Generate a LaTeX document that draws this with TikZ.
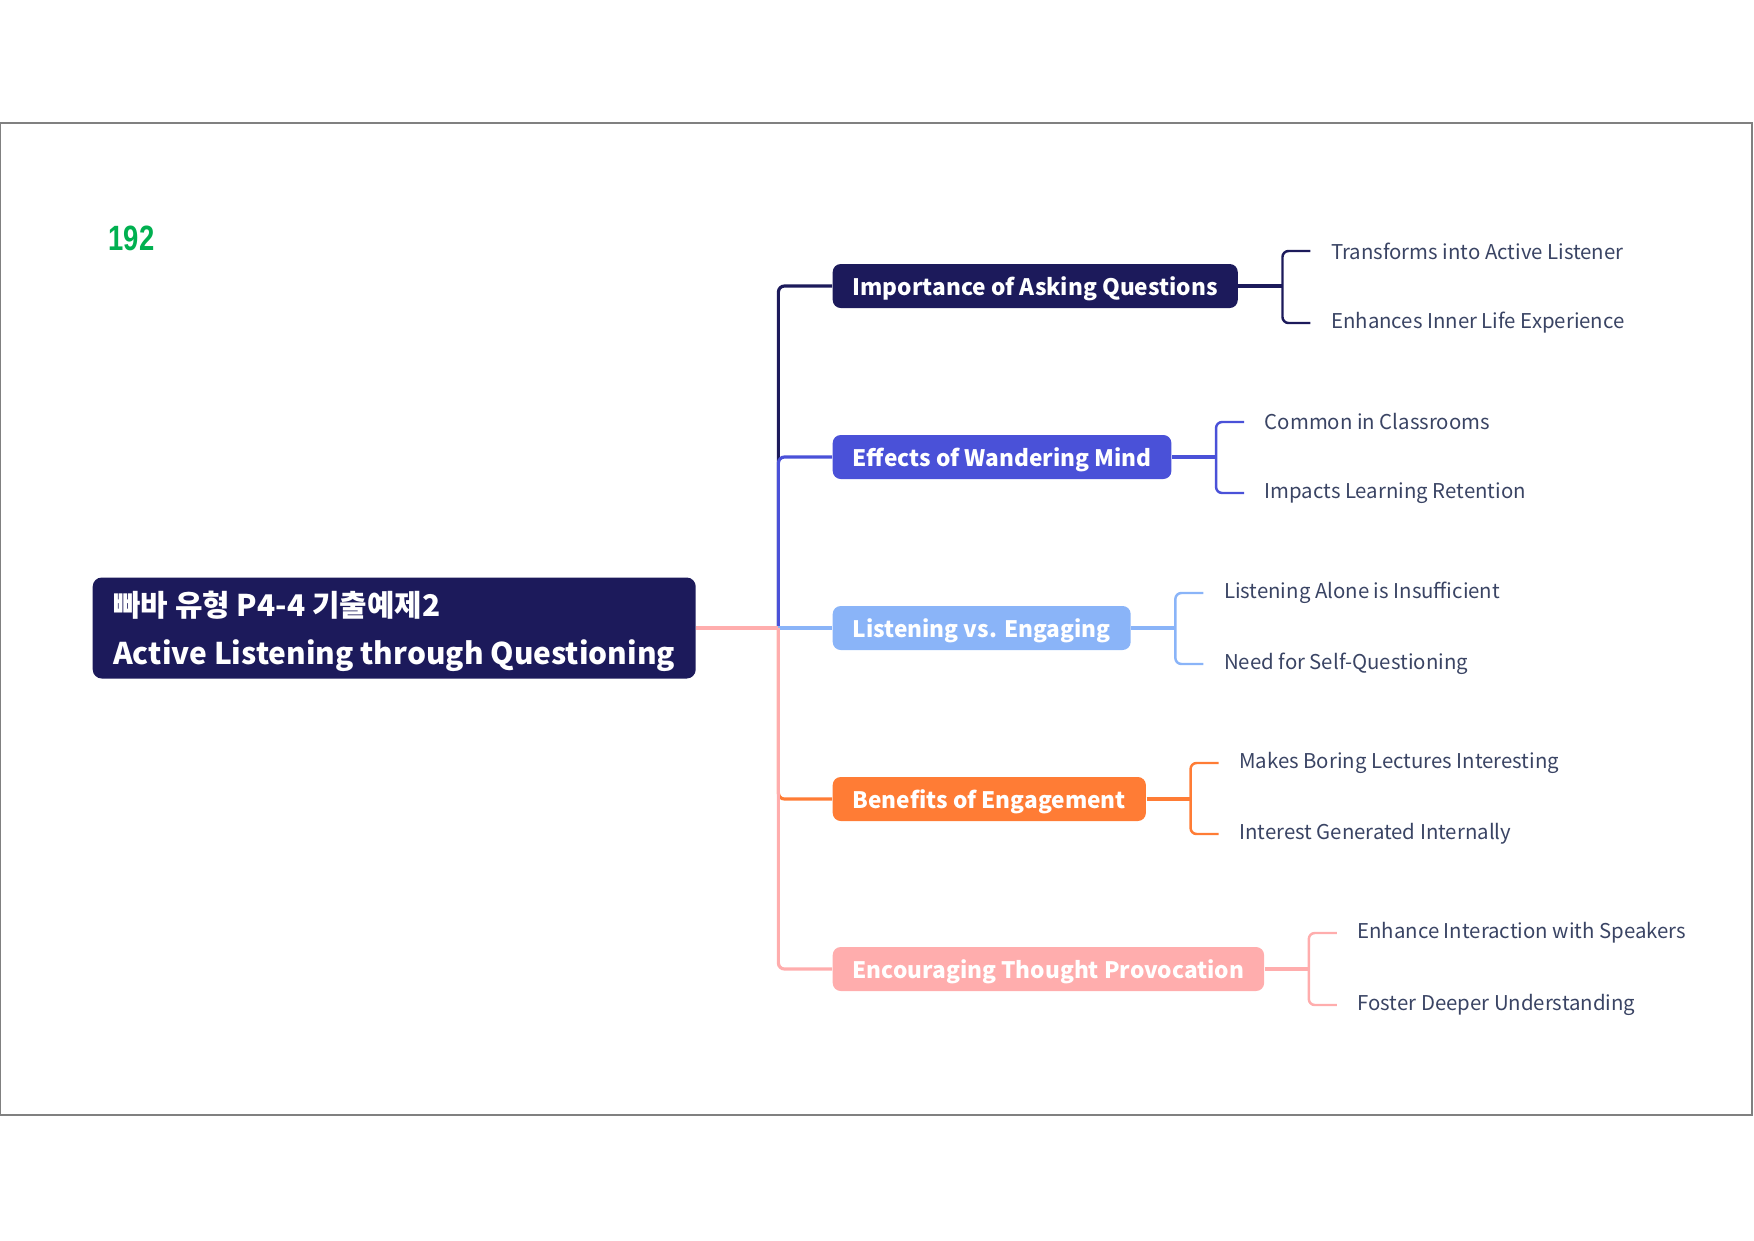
\documentclass[tikz,border=0pt]{standalone}
\usepackage{fontspec}
\newfontfamily\krfont{Noto Sans CJK KR}
\newfontfamily\numfont[FakeStretch=0.78]{Liberation Sans}
\definecolor{navy}{HTML}{1C1A5B}
\definecolor{royal}{HTML}{4A51D8}
\definecolor{sky}{HTML}{8AB4F8}
\definecolor{tangerine}{HTML}{FF7C35}
\definecolor{salmon}{HTML}{FFADAD}
\definecolor{leaftext}{HTML}{3A4464}
\definecolor{pagenum}{HTML}{00B050}

\begin{document}
\begin{tikzpicture}[
    x=0.1mm, y=-0.1mm,
    rootbox/.style={rectangle, rounded corners=0.9mm, fill=navy, text=white,
        font=\krfont\bfseries\fontsize{8.5}{13.7}\selectfont, align=left,
        text depth=0pt, inner xsep=2mm, minimum width=60.3mm, minimum height=10.1mm, anchor=west},
    topic/.style={rectangle, rounded corners=0.8mm, text=white,
        font=\krfont\bfseries\fontsize{6.45}{8}\selectfont,
        text height=5.3pt, text depth=0pt,
        inner xsep=2mm, inner ysep=0pt, minimum height=4.4mm, anchor=west},
    leaf/.style={text=leaftext, font=\krfont\fontsize{5.8}{7}\selectfont,
        inner xsep=2mm, inner ysep=0pt, anchor=west},
    stem/.style={line width=0.9pt, rounded corners=0.6mm},
    twig/.style={line width=0.7pt, rounded corners=0.6mm}
]
\useasboundingbox (0,0) rectangle (1754,1240);
\draw[gray, line width=0.6pt] (0,123) rectangle (1752,1115);

\node[text=pagenum, font=\numfont\bfseries\fontsize{10}{12}\selectfont,
    inner sep=0pt, anchor=west] (page) at (108,238) {192};

% Root
\node[rootbox] (root) at (92,628) {빠바 유형 P4-4 기출예제2\\Active Listening through Questioning};
\coordinate (hub) at ([xshift=8.2mm]root.east);

% Branches
\node[topic, fill=navy] (b1) at (832,286) {Importance of Asking Questions};
\node[topic, fill=royal] (b2) at (832,457) {Effects of Wandering Mind};
\node[topic, fill=sky] (b3) at (832,628) {Listening vs. Engaging};
\node[topic, fill=tangerine] (b4) at (832,799) {Benefits of Engagement};
\node[topic, fill=salmon] (b5) at (832,969) {Encouraging Thought Provocation};

\draw[stem, navy] (hub) |- (b1.west);
\draw[stem, royal] (hub) |- (b2.west);
\draw[stem, sky] (hub) -- (b3.west);
\draw[stem, tangerine] (hub) |- (b4.west);
\draw[stem, salmon] (hub) |- (b5.west);
\draw[stem, salmon] (root.east) -- (hub);

% Leaves
\coordinate (k1) at ([xshift=4.4mm]b1.east);
\node[leaf] (l1a) at ([xshift=2.8mm, yshift=3.5mm]k1) {Transforms into Active Listener};
\node[leaf] (l1b) at ([xshift=2.8mm, yshift=-3.7mm]k1) {Enhances Inner Life Experience};
\draw[stem, navy] (b1.east) -- (k1);
\draw[twig, navy] (l1a.west) -| (k1) |- (l1b.west);

\coordinate (k2) at ([xshift=4.4mm]b2.east);
\node[leaf] (l2a) at ([xshift=2.8mm, yshift=3.5mm]k2) {Common in Classrooms};
\node[leaf] (l2b) at ([xshift=2.8mm, yshift=-3.6mm]k2) {Impacts Learning Retention};
\draw[stem, royal] (b2.east) -- (k2);
\draw[twig, royal] (l2a.west) -| (k2) |- (l2b.west);

\coordinate (k3) at ([xshift=4.4mm]b3.east);
\node[leaf] (l3a) at ([xshift=2.8mm, yshift=3.5mm]k3) {Listening Alone is Insufficient};
\node[leaf] (l3b) at ([xshift=2.8mm, yshift=-3.6mm]k3) {Need for Self-Questioning};
\draw[stem, sky] (b3.east) -- (k3);
\draw[twig, sky] (l3a.west) -| (k3) |- (l3b.west);

\coordinate (k4) at ([xshift=4.4mm]b4.east);
\node[leaf] (l4a) at ([xshift=2.8mm, yshift=3.6mm]k4) {Makes Boring Lectures Interesting};
\node[leaf] (l4b) at ([xshift=2.8mm, yshift=-3.5mm]k4) {Interest Generated Internally};
\draw[stem, tangerine] (b4.east) -- (k4);
\draw[twig, tangerine] (l4a.west) -| (k4) |- (l4b.west);

\coordinate (k5) at ([xshift=4.4mm]b5.east);
\node[leaf] (l5a) at ([xshift=2.8mm, yshift=3.6mm]k5) {Enhance Interaction with Speakers};
\node[leaf] (l5b) at ([xshift=2.8mm, yshift=-3.6mm]k5) {Foster Deeper Understanding};
\draw[stem, salmon] (b5.east) -- (k5);
\draw[twig, salmon] (l5a.west) -| (k5) |- (l5b.west);

\end{tikzpicture}
\end{document}
